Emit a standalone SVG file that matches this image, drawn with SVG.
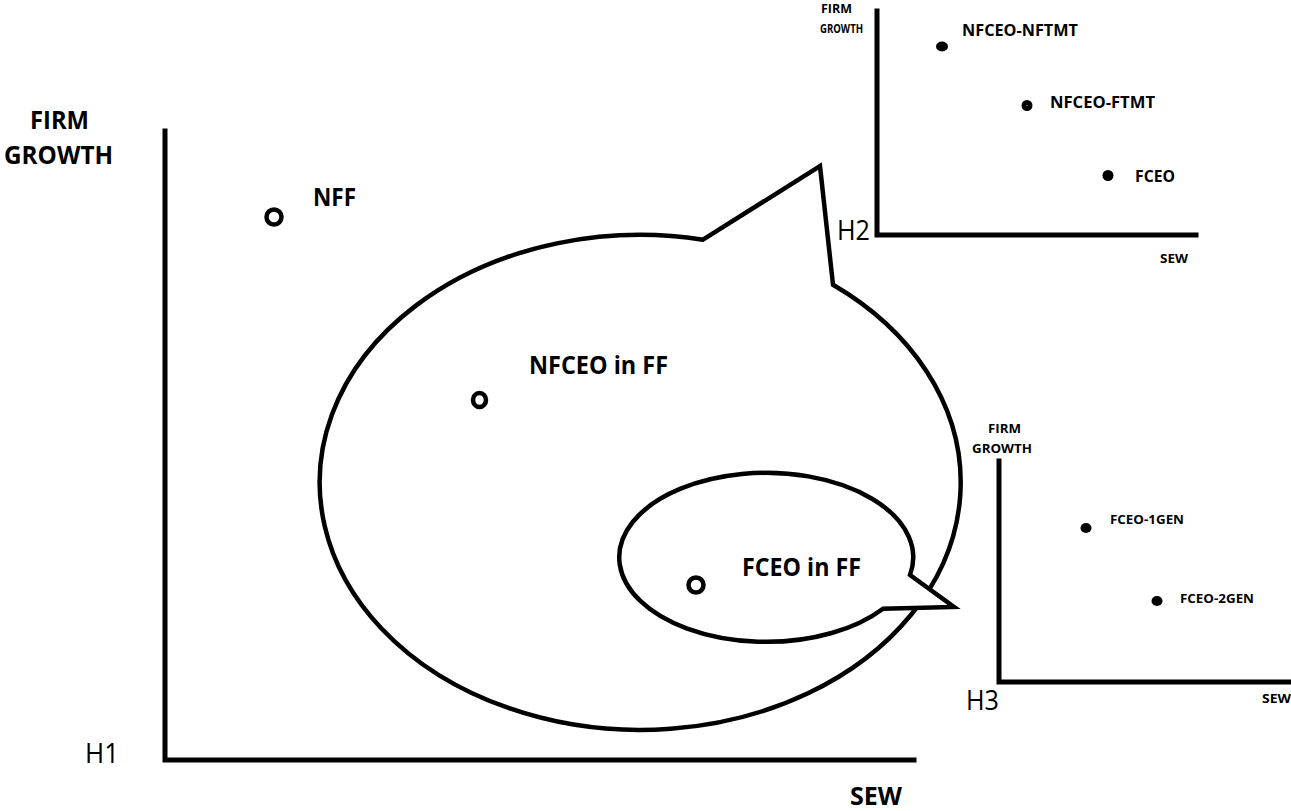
<svg xmlns="http://www.w3.org/2000/svg" width="1291" height="811" viewBox="0 0 1291 811">
<style>
.ax{stroke:#000;stroke-width:5;fill:none;stroke-linecap:square}
.bub{stroke:#000;stroke-width:4.5;fill:#fff;stroke-linejoin:miter}
.ring{stroke:#000;stroke-width:4.5;fill:#fff}
.dot{fill:#000}
.b{font-family:"Open Sans","Liberation Sans",sans-serif;font-weight:bold;fill:#000}
.n{font-family:"Open Sans","Liberation Sans",sans-serif;font-weight:normal;fill:#000}
.L{font-size:25px}
.M{font-size:16px}
.S{font-size:13px}
.H{font-size:28px}
</style>
<rect width="1291" height="811" fill="#fff"/>

<g id="chart-h1">
  <path class="ax" d="M165,131 V760 H914"/>
  <text class="b L" x="30" y="129" textLength="59" lengthAdjust="spacingAndGlyphs">FIRM</text>
  <text class="b L" x="4" y="164" textLength="109" lengthAdjust="spacingAndGlyphs">GROWTH</text>
  <text class="n H" x="85" y="763" textLength="34" lengthAdjust="spacingAndGlyphs">H1</text>
  <text class="b L" x="850" y="805" textLength="52" lengthAdjust="spacingAndGlyphs">SEW</text>
</g>

<g id="node-nff">
  <circle class="ring" cx="274" cy="217" r="7.5"/>
  <text class="b L" x="313" y="206" textLength="43" lengthAdjust="spacingAndGlyphs">NFF</text>
</g>

<g id="node-nfceo-in-ff">
  <path class="bub" d="M703,239.7 L820,166 L833,284.7 A320.5 247.5 0 1 1 703,239.7 Z"/>
  <ellipse class="ring" cx="479.5" cy="400" rx="6.5" ry="7"/>
  <text class="b L" x="529" y="374" textLength="139" lengthAdjust="spacingAndGlyphs">NFCEO in FF</text>
</g>

<g id="node-fceo-in-ff">
  <path class="bub" d="M910,575 L954,607 L883,608.7 A147 84.5 0 1 1 910,575 Z"/>
  <circle class="ring" cx="696" cy="585" r="7.5"/>
  <text class="b L" x="742" y="576" textLength="119" lengthAdjust="spacingAndGlyphs">FCEO in FF</text>
</g>

<g id="chart-h2">
  <path class="ax" d="M877,11 V235 H1196"/>
  <text class="b S" x="821" y="13" textLength="31" lengthAdjust="spacingAndGlyphs">FIRM</text>
  <text class="b S" x="820" y="33" textLength="43" lengthAdjust="spacingAndGlyphs">GROWTH</text>
  <text class="n H" x="837" y="240" textLength="33" lengthAdjust="spacingAndGlyphs">H2</text>
  <text class="b S" x="1160" y="263" textLength="28" lengthAdjust="spacingAndGlyphs">SEW</text>
  <g id="h2-nfceo-nftmt">
    <ellipse class="dot" cx="942" cy="46.5" rx="6" ry="5"/>
    <text class="b M" x="962" y="36" textLength="116" lengthAdjust="spacingAndGlyphs">NFCEO-NFTMT</text>
  </g>
  <g id="h2-nfceo-ftmt">
    <circle cx="1027" cy="105.5" r="3" fill="#fff" stroke="#000" stroke-width="5"/>
    <text class="b M" x="1050" y="108" textLength="105" lengthAdjust="spacingAndGlyphs">NFCEO-FTMT</text>
  </g>
  <g id="h2-fceo">
    <ellipse class="dot" cx="1108" cy="175.5" rx="5.5" ry="5.5"/>
    <text class="b M" x="1135" y="182" textLength="40" lengthAdjust="spacingAndGlyphs">FCEO</text>
  </g>
</g>

<g id="chart-h3">
  <path class="ax" d="M999,461 V682 H1291"/>
  <text class="b S" x="988" y="433" textLength="33" lengthAdjust="spacingAndGlyphs">FIRM</text>
  <text class="b S" x="972" y="453" textLength="60" lengthAdjust="spacingAndGlyphs">GROWTH</text>
  <text class="n H" x="966" y="710" textLength="33" lengthAdjust="spacingAndGlyphs">H3</text>
  <text class="b S" x="1262" y="703" textLength="29" lengthAdjust="spacingAndGlyphs">SEW</text>
  <g id="h3-fceo-1gen">
    <ellipse class="dot" cx="1086" cy="528" rx="5.5" ry="5"/>
    <text class="b S" x="1110" y="524" textLength="74" lengthAdjust="spacingAndGlyphs">FCEO-1GEN</text>
  </g>
  <g id="h3-fceo-2gen">
    <ellipse class="dot" cx="1157" cy="601" rx="5.5" ry="5"/>
    <text class="b S" x="1180" y="603" textLength="74" lengthAdjust="spacingAndGlyphs">FCEO-2GEN</text>
  </g>
</g>

<g id="connectors"></g>
</svg>
